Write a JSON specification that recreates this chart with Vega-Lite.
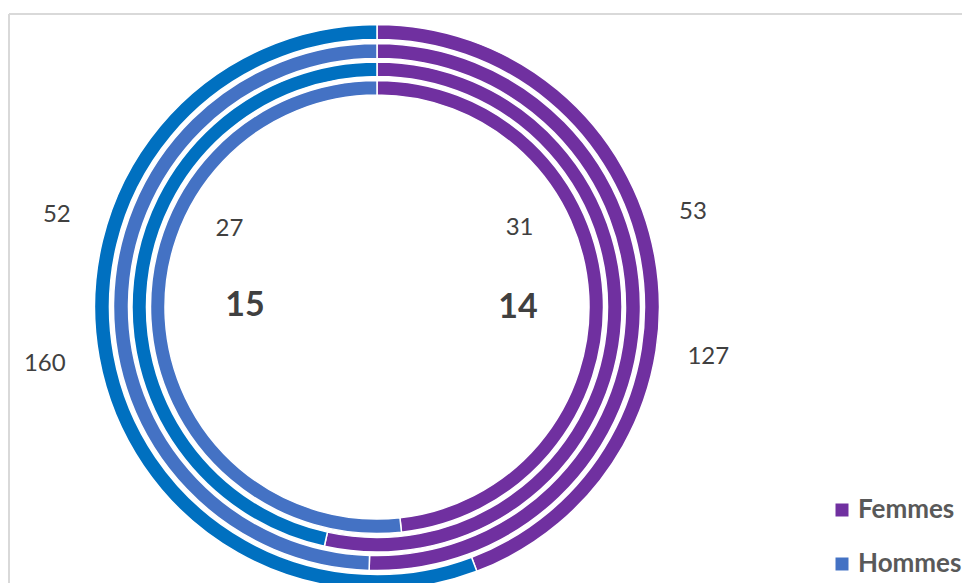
{
  "$schema": "https://vega.github.io/schema/vega-lite/v6.json",
  "autosize": "none",
  "padding": {"left": 9, "top": 31, "right": 217, "bottom": 0},
  "width": 736,
  "height": 552,
  "background": "white",
  "config": {
    "view": {"stroke": null},
    "font": "Lato",
    "legend": {
      "orient": "none",
      "legendX": 820,
      "legendY": 466,
      "title": null,
      "symbolType": "square",
      "symbolSize": 169,
      "symbolStrokeWidth": 0,
      "labelFont": "Lato",
      "labelFontSize": 26,
      "labelFontWeight": "bold",
      "labelColor": "#595959",
      "labelOffset": 3,
      "rowPadding": 28,
      "padding": 0
    }
  },
  "data": {
    "values": [
      {"ring": 1, "sexe": "Femmes", "value": 127},
      {"ring": 1, "sexe": "Hommes", "value": 160},
      {"ring": 2, "sexe": "Femmes", "value": 53},
      {"ring": 2, "sexe": "Hommes", "value": 52},
      {"ring": 3, "sexe": "Femmes", "value": 31},
      {"ring": 3, "sexe": "Hommes", "value": 27},
      {"ring": 4, "sexe": "Femmes", "value": 14},
      {"ring": 4, "sexe": "Hommes", "value": 15}
    ]
  },
  "transform": [
    {"stack": "value", "groupby": ["ring"], "offset": "normalize", "sort": [{"field": "sexe", "order": "ascending"}], "as": ["v0", "v1"]},
    {"calculate": "(datum.v0 + datum.v1) / 2", "as": "mid"}
  ],
  "layer": [
    {
      "transform": [{"filter": "datum.ring === 1 && datum.sexe === 'Femmes'"}],
      "mark": {"type": "rule", "stroke": "#d9d9d9", "strokeWidth": 2},
      "encoding": {"x": {"value": 0}, "x2": {"value": 960}, "y": {"value": -17}, "y2": {"value": -17}}
    },
    {
      "transform": [{"filter": "datum.ring === 1 && datum.sexe === 'Femmes'"}],
      "mark": {"type": "rule", "stroke": "#d9d9d9", "strokeWidth": 2},
      "encoding": {"x": {"value": 0}, "x2": {"value": 0}, "y": {"value": -17}, "y2": {"value": 560}}
    },
    {
      "transform": [{"filter": "datum.ring === 1"}],
      "mark": {"type": "arc", "radius": 282.5, "radius2": 267.5, "stroke": "white", "strokeWidth": 1.5},
      "encoding": {
        "theta": {"field": "v0", "type": "quantitative", "scale": {"domain": [0, 1]}},
        "theta2": {"field": "v1"},
        "color": {"condition": {"test": "datum.sexe === 'Hommes'", "value": "#0070C0"}, "field": "sexe", "type": "nominal", "scale": {"domain": ["Femmes", "Hommes"], "range": ["#7030A0", "#4472C4"]}}
      }
    },
    {
      "transform": [{"filter": "datum.ring === 2"}],
      "mark": {"type": "arc", "radius": 263.5, "radius2": 248.5, "stroke": "white", "strokeWidth": 1.5},
      "encoding": {
        "theta": {"field": "v0", "type": "quantitative", "scale": {"domain": [0, 1]}},
        "theta2": {"field": "v1"},
        "color": {"field": "sexe", "type": "nominal", "scale": {"domain": ["Femmes", "Hommes"], "range": ["#7030A0", "#4472C4"]}}
      }
    },
    {
      "transform": [{"filter": "datum.ring === 3"}],
      "mark": {"type": "arc", "radius": 245, "radius2": 230.5, "stroke": "white", "strokeWidth": 1.5},
      "encoding": {
        "theta": {"field": "v0", "type": "quantitative", "scale": {"domain": [0, 1]}},
        "theta2": {"field": "v1"},
        "color": {"condition": {"test": "datum.sexe === 'Hommes'", "value": "#0070C0"}, "field": "sexe", "type": "nominal", "scale": {"domain": ["Femmes", "Hommes"], "range": ["#7030A0", "#4472C4"]}}
      }
    },
    {
      "transform": [{"filter": "datum.ring === 4"}],
      "mark": {"type": "arc", "radius": 226.5, "radius2": 212, "stroke": "white", "strokeWidth": 1.5},
      "encoding": {
        "theta": {"field": "v0", "type": "quantitative", "scale": {"domain": [0, 1]}},
        "theta2": {"field": "v1"},
        "color": {"field": "sexe", "type": "nominal", "scale": {"domain": ["Femmes", "Hommes"], "range": ["#7030A0", "#4472C4"]}}
      }
    },
    {
      "transform": [{"filter": "datum.ring === 4 && datum.sexe === 'Femmes'"}],
      "mark": {"type": "text", "radius": 141, "thetaOffset": 0.058, "font": "Lato", "fontSize": 34, "fontWeight": "bold", "fill": "#404040"},
      "encoding": {"theta": {"field": "mid", "type": "quantitative", "stack": null, "scale": {"domain": [0, 1]}}, "text": {"field": "value"}}
    },
    {
      "transform": [{"filter": "datum.ring === 4 && datum.sexe === 'Hommes'"}],
      "mark": {"type": "text", "radius": 132, "thetaOffset": 0.064, "font": "Lato", "fontSize": 34, "fontWeight": "bold", "fill": "#404040"},
      "encoding": {"theta": {"field": "mid", "type": "quantitative", "stack": null, "scale": {"domain": [0, 1]}}, "text": {"field": "value"}}
    },
    {
      "transform": [{"filter": "datum.ring === 3 && datum.sexe === 'Femmes'"}],
      "mark": {"type": "text", "radius": 163, "thetaOffset": -0.614, "font": "Lato", "fontSize": 24, "fill": "#404040"},
      "encoding": {"theta": {"field": "mid", "type": "quantitative", "stack": null, "scale": {"domain": [0, 1]}}, "text": {"field": "value"}}
    },
    {
      "transform": [{"filter": "datum.ring === 3 && datum.sexe === 'Hommes'"}],
      "mark": {"type": "text", "radius": 167, "thetaOffset": 0.38, "font": "Lato", "fontSize": 24, "fill": "#404040"},
      "encoding": {"theta": {"field": "mid", "type": "quantitative", "stack": null, "scale": {"domain": [0, 1]}}, "text": {"field": "value"}}
    },
    {
      "transform": [{"filter": "datum.ring === 2 && datum.sexe === 'Femmes'"}],
      "mark": {"type": "text", "radius": 330, "thetaOffset": -0.307, "font": "Lato", "fontSize": 24, "fill": "#404040"},
      "encoding": {"theta": {"field": "mid", "type": "quantitative", "stack": null, "scale": {"domain": [0, 1]}}, "text": {"field": "value"}}
    },
    {
      "transform": [{"filter": "datum.ring === 2 && datum.sexe === 'Hommes'"}],
      "mark": {"type": "text", "radius": 333, "thetaOffset": 0.264, "font": "Lato", "fontSize": 24, "fill": "#404040"},
      "encoding": {"theta": {"field": "mid", "type": "quantitative", "stack": null, "scale": {"domain": [0, 1]}}, "text": {"field": "value"}}
    },
    {
      "transform": [{"filter": "datum.ring === 1 && datum.sexe === 'Femmes'"}],
      "mark": {"type": "text", "radius": 335, "thetaOffset": 0.33, "font": "Lato", "fontSize": 24, "fill": "#404040"},
      "encoding": {"theta": {"field": "mid", "type": "quantitative", "stack": null, "scale": {"domain": [0, 1]}}, "text": {"field": "value"}}
    },
    {
      "transform": [{"filter": "datum.ring === 1 && datum.sexe === 'Hommes'"}],
      "mark": {"type": "text", "radius": 337, "thetaOffset": 0.012, "font": "Lato", "fontSize": 24, "fill": "#404040"},
      "encoding": {"theta": {"field": "mid", "type": "quantitative", "stack": null, "scale": {"domain": [0, 1]}}, "text": {"field": "value"}}
    }
  ]
}
